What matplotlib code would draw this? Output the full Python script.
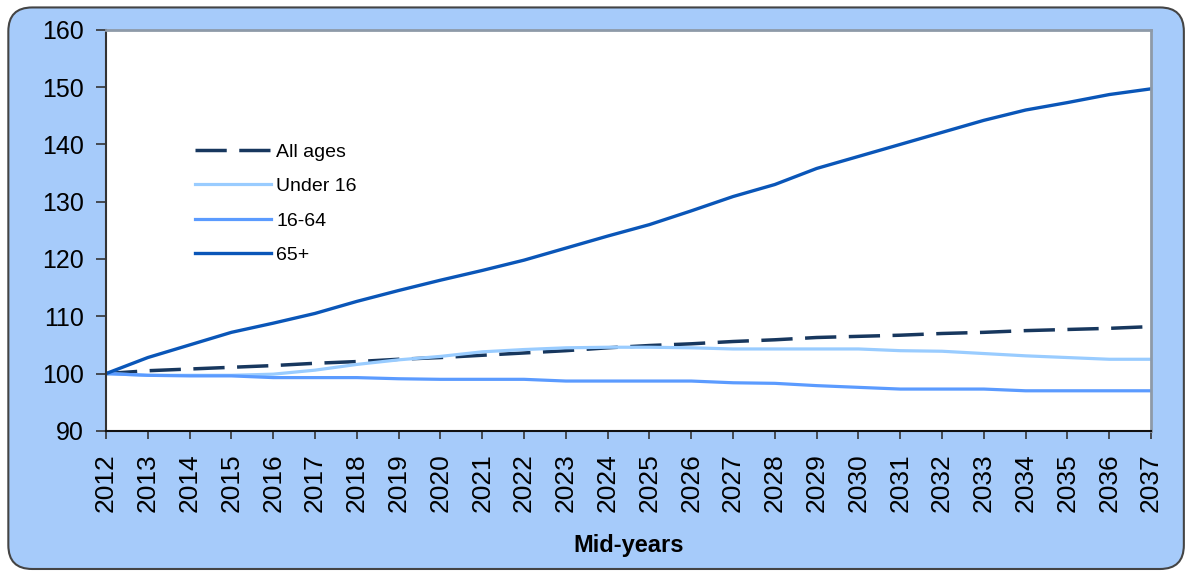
import matplotlib.pyplot as plt
from matplotlib.patches import FancyBboxPatch

plt.rcParams['font.family'] = ['Liberation Sans', 'DejaVu Sans']

# Index (2012 = 100), mid-year projections
years = list(range(2012, 2038))
all_ages = [100.0, 100.5, 100.8, 101.1, 101.4, 101.8, 102.1, 102.5, 102.8, 103.2,
            103.6, 104.0, 104.5, 104.9, 105.2, 105.6, 105.9, 106.3, 106.5, 106.7,
            107.0, 107.2, 107.5, 107.7, 107.9, 108.2]
under_16 = [100.0, 99.7, 99.7, 99.7, 99.9, 100.6, 101.6, 102.4, 103.0, 103.8,
            104.2, 104.5, 104.6, 104.6, 104.5, 104.3, 104.3, 104.3, 104.3, 104.0,
            103.9, 103.5, 103.1, 102.8, 102.5, 102.5]
age_16_64 = [100.0, 99.7, 99.6, 99.6, 99.3, 99.3, 99.3, 99.1, 99.0, 99.0,
             99.0, 98.7, 98.7, 98.7, 98.7, 98.4, 98.3, 97.9, 97.6, 97.3,
             97.3, 97.3, 97.0, 97.0, 97.0, 97.0]
age_65_plus = [100.0, 102.8, 105.0, 107.2, 108.8, 110.5, 112.6, 114.5, 116.3, 118.0,
               119.8, 121.9, 124.0, 126.0, 128.4, 130.9, 133.0, 135.8, 137.9, 140.0,
               142.1, 144.2, 146.0, 147.3, 148.7, 149.7]

bg = '#A6CBFA'

fig = plt.figure(figsize=(11.91, 5.73), dpi=100)
fig.patch.set_facecolor('white')

# rounded chart area behind everything
box = FancyBboxPatch((0.007, 0.007), 0.987, 0.98,
                     boxstyle='round,pad=0,rounding_size=0.02',
                     transform=fig.transFigure, facecolor=bg,
                     edgecolor='#444444', linewidth=1.5, zorder=-5,
                     mutation_aspect=1191 / 573)
fig.patches.append(box)

ax = fig.add_axes([0.089, 0.248, 0.8775, 0.7])
ax.set_facecolor('white')

ax.plot(years, all_ages, color='#17375E', lw=2.5, linestyle=(0, (9, 3.6)), label='All ages')
ax.plot(years, under_16, color='#99CCFF', lw=2.3, label='Under 16')
ax.plot(years, age_16_64, color='#5B9BFF', lw=2.3, label='16-64')
ax.plot(years, age_65_plus, color='#0A56B8', lw=2.4, label='65+')

ax.set_xlim(2012, 2037)
ax.set_ylim(90, 160)
ax.set_yticks(range(90, 161, 10))
ax.set_xticks(years)
ax.set_xticklabels([str(y) for y in years], rotation=90)

ax.tick_params(axis='y', direction='out', length=7, width=1.2, color='#333333',
               labelsize=18, pad=9)
ax.tick_params(axis='x', direction='out', length=6, width=1.2, color='#333333',
               labelsize=19, pad=10)

for s in ['top', 'right']:
    ax.spines[s].set_color('#8E9AA8')
    ax.spines[s].set_linewidth(2)
ax.spines['left'].set_color('#333333')
ax.spines['bottom'].set_color('#111111')
ax.spines['left'].set_linewidth(1.5)
ax.spines['bottom'].set_linewidth(1.5)

ax.set_xlabel('Mid-years', fontsize=17, fontweight='bold', labelpad=16)

ax.legend(loc='upper left', bbox_to_anchor=(0.085, 0.718), frameon=False,
          fontsize=14, handlelength=3.9, handletextpad=0.3, labelspacing=0.87,
          borderpad=0, borderaxespad=0)

fig.savefig('out.png', dpi=100, facecolor='white')
